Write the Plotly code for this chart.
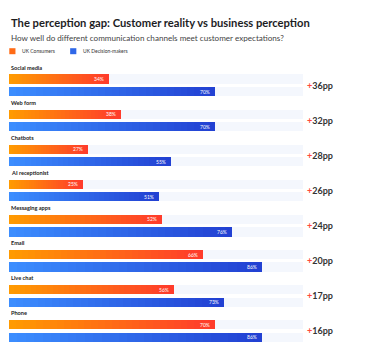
import plotly.graph_objects as go

channels = ["Social media", "Web form", "Chatbots", "AI receptionist",
            "Messaging apps", "Email", "Live chat", "Phone"]
consumers = [34, 38, 27, 25, 52, 66, 56, 70]
decision_makers = [70, 70, 55, 51, 76, 86, 73, 86]
gaps = [36, 32, 28, 26, 24, 20, 17, 16]
series_names = ["UK Consumers", "UK Decision-makers"]

title = "The perception gap: Customer reality vs business perception"
subtitle = "How well do different communication channels meet customer expectations?"

# page body has an 8px margin; figure sized to fit the 365x360 window
OFF = 8
W, H = 365 - OFF, 360 - OFF
K = 30  # gradient segments per bar

ORANGE = ((255, 156, 0), (255, 58, 44))
BLUE = ((60, 142, 255), (34, 64, 210))
TRACK = "#f4f7fd"

def lerp(c, t):
    a, b = c
    return "rgb(%d,%d,%d)" % tuple(round(a[j] + (b[j] - a[j]) * t) for j in range(3))

# layout constants (page-pixel units on y axis)
y0, pitch, gap, thick = 79.0, 35.1, 12.5, 9.2
o_y = [y0 + i * pitch for i in range(len(channels))]
b_y = [y + gap for y in o_y]

fig = go.Figure()

fig.add_trace(go.Bar(x=[100] * (2 * len(channels)), y=o_y + b_y, orientation="h",
                     width=thick, marker=dict(color=TRACK, line=dict(width=0)),
                     showlegend=False, hoverinfo="skip"))

for vals, ys, cols in [(consumers, o_y, ORANGE), (decision_makers, b_y, BLUE)]:
    for k in range(K):
        fig.add_trace(go.Bar(
            x=[v / K for v in vals], base=[v * k / K for v in vals], y=ys,
            orientation="h", width=thick,
            marker=dict(color=lerp(cols, (k + 0.5) / K), line=dict(width=0)),
            showlegend=False, hoverinfo="skip"))

FONT = "Lato"
ann = []
ann.append(dict(x=0, y=22.5, xref="x", yref="y", text="<b>" + title + "</b>",
                showarrow=False, xanchor="left", yanchor="middle",
                font=dict(family=FONT, size=11.2, color="#1d1d1f")))
ann.append(dict(x=0, y=37.5, xref="x", yref="y", text=subtitle,
                showarrow=False, xanchor="left", yanchor="middle",
                font=dict(family=FONT, size=8.1, color="#444")))
shapes = []
for nm, xs, cols in [(series_names[0], 0.1, ORANGE), (series_names[1], 20.8, BLUE)]:
    shapes.append(dict(type="rect", xref="x", yref="y", x0=xs, x1=xs + 2.1, y0=48.2, y1=54.2,
                       line=dict(width=0), fillcolor=lerp(cols, 0.5)))
    ann.append(dict(x=xs + 3.8, y=51.2, xref="x", yref="y", text=nm, showarrow=False,
                    xanchor="left", yanchor="middle",
                    font=dict(family=FONT, size=5.0, color="#333")))

for i, ch in enumerate(channels):
    ann.append(dict(x=0, y=o_y[i] - 12, xref="x", yref="y", text="<b>" + ch + "</b>",
                    showarrow=False, xanchor="left", yanchor="middle",
                    font=dict(family=FONT, size=5.6, color="#222")))
    for v, y in [(consumers[i], o_y[i]), (decision_makers[i], b_y[i])]:
        ann.append(dict(x=v, y=y, xref="x", yref="y", text=f"{v}%", showarrow=False,
                        xanchor="right", yanchor="middle", xshift=-3,
                        font=dict(family=FONT, size=5, color="white")))
    ann.append(dict(x=100, y=(o_y[i] + b_y[i]) / 2, xref="x", yref="y", xshift=2,
                    text=f"<b><span style='color:#ff4a3a'>+</span>{gaps[i]}pp</b>",
                    showarrow=False, xanchor="left", yanchor="middle",
                    font=dict(family=FONT, size=9, color="#333")))

fig.update_layout(
    width=W, height=H, barmode="overlay",
    margin=dict(l=1, r=62, t=0, b=0),
    paper_bgcolor="white", plot_bgcolor="white",
    xaxis=dict(range=[0, 100], visible=False, fixedrange=True),
    yaxis=dict(range=[360, OFF], visible=False, fixedrange=True),
    annotations=ann, shapes=shapes, showlegend=False, bargap=0,
)
fig.write_html("out.html")
